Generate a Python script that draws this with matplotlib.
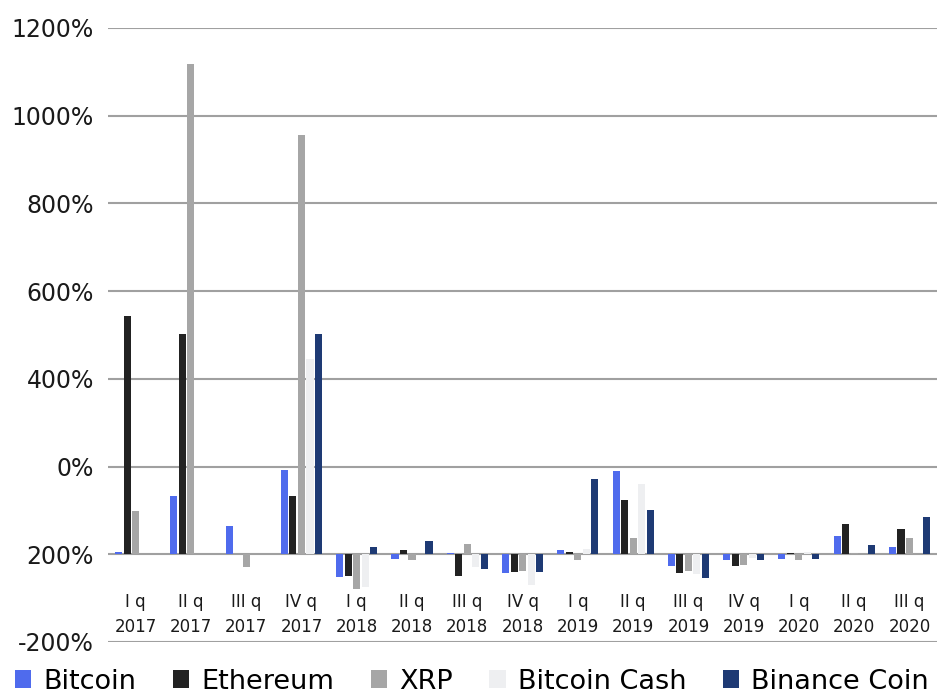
import numpy as np
import matplotlib
matplotlib.use('Agg')
import matplotlib.pyplot as plt

# данные (чтение с картинки, %)
quarters = ['I q', 'II q', 'III q', 'IV q', 'I q', 'II q', 'III q', 'IV q',
            'I q', 'II q', 'III q', 'IV q', 'I q', 'II q', 'III q']
years = ['2017', '2017', '2017', '2017', '2018', '2018', '2018', '2018',
         '2019', '2019', '2019', '2019', '2020', '2020', '2020']

bitcoin = [5, 134, 64, 193, -52, -11, 2, -42, 9, 189, -26, -13, -11, 42, 17]
ethereum = [543, 502, 0, 132, -50, 9, -50, -40, 5, 124, -42, -27, 2, 70, 58]
xrp = [98, 1118, -29, 957, -80, -13, 24, -37, -12, 38, -39, -25, -12, 2, 38]
bitcoin_cash = [0, 0, 0, 445, -74, 0, -29, -70, 11, 161, -45, -8, 6, 1, 0]
binance = [0, 0, 0, 502, 17, 30, -33, -41, 172, 102, -53, -13, -11, 22, 86]

series_names = ['Bitcoin', 'Ethereum', 'XRP', 'Bitcoin Cash', 'Binance Coin']
colors = ['#4f6bed', '#222222', '#a6a6a6', '#eeeff1', '#1e3a74']

ytick_vals = [-200, 0, 200, 400, 600, 800, 1000, 1200]
ytick_labels = ['-200%', '200%', '0%', '400%', '600%', '800%', '1000%', '1200%']

fig = plt.figure(figsize=(9.39, 6.96), dpi=100)
ax = fig.add_axes([0.115, 0.0776, 0.883, 0.8822])

x = np.arange(len(quarters))
pitch = 0.154
all_series = [bitcoin, ethereum, xrp, bitcoin_cash, binance]
for i, (vals, name, c) in enumerate(zip(all_series, series_names, colors)):
    ax.bar(x + (i - 2) * pitch, vals, width=0.128, color=c, label=name, zorder=3)

ax.set_xlim(-0.5, len(quarters) - 0.5)
ax.set_ylim(-200, 1200)
ax.set_yticks(ytick_vals)
ax.set_yticklabels(ytick_labels, fontsize=17, color='#1a1a1a')
ax.set_xticks([])
ax.yaxis.grid(True, color='#a0a0a0', linewidth=1.5, zorder=0)
ax.tick_params(axis='y', length=0, pad=10)
for s in ax.spines.values():
    s.set_visible(False)

# подписи кварталов внутри области графика
for xi, q, yr in zip(x, quarters, years):
    ax.text(xi, -109, q, ha='center', va='center', fontsize=12, color='#1a1a1a')
    ax.text(xi, -166, yr, ha='center', va='center', fontsize=12, color='#1a1a1a')

fig.legend(loc='lower left', bbox_to_anchor=(0.016, 0.002), ncol=5,
           frameon=False, fontsize=19.5, handlelength=0.6, handleheight=0.6,
           handletextpad=0.45, columnspacing=1.35, borderaxespad=0, borderpad=0)

fig.savefig('out.png', dpi=100)
